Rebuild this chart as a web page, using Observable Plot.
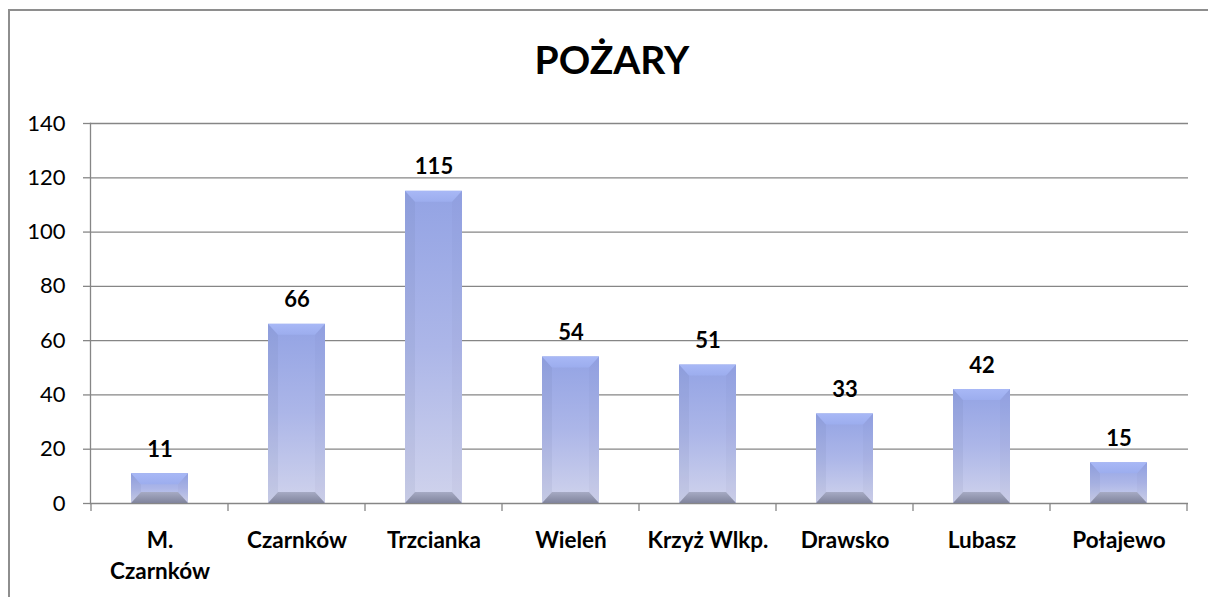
<!DOCTYPE html>
<html><head><meta charset="utf-8">
<script src="https://cdn.jsdelivr.net/npm/d3@7"></script>
<script src="https://cdn.jsdelivr.net/npm/@observablehq/plot@0.6"></script>
<style>
body{margin:0;width:1208px;height:597px;overflow:hidden;background:#fff;font-family:Lato,sans-serif;}
#wrap{position:relative;width:1208px;height:597px;}
#border{position:absolute;left:8px;top:9px;width:1300px;height:700px;border-top:2px solid #8e8e8e;border-left:2px solid #8e8e8e;}
#title{position:absolute;left:8px;width:1208px;top:36px;text-align:center;font-weight:bold;font-size:39px;font-family:Lato,sans-serif;color:#000;}
#chart{position:absolute;left:0;top:100px;}
#chart g[aria-label="y-axis tick label"]{font-size:22px;}
</style></head><body>
<div id="wrap"><div id="border"></div><div id="title">POŻARY</div><div id="chart"></div></div>
<script>
const categories = ["M. Czarnków","Czarnków","Trzcianka","Wieleń","Krzyż Wlkp.","Drawsko","Lubasz","Połajewo"];
const categoryLabels = ["M.\nCzarnków","Czarnków","Trzcianka","Wieleń","Krzyż Wlkp.","Drawsko","Lubasz","Połajewo"];
const fires = [11,66,115,54,51,33,42,15];
const yTicks = [0,20,40,60,80,100,120,140];

const data = categories.map((c,i)=>({category:c, value:fires[i]}));
const labelOf = new Map(categories.map((c,i)=>[c, categoryLabels[i]]));
const NS = "http://www.w3.org/2000/svg";

function bevel(index, scales, values, dims, context, next){
  const g = next(index, scales, values, dims, context);
  const rects = Array.from(g.querySelectorAll("rect"));
  for (const r of rects){
    const x=+r.getAttribute("x"), y=+r.getAttribute("y"), w=+r.getAttribute("width"), h=+r.getAttribute("height");
    const bh=10, bv=Math.min(11,h/2);
    const poly=(pts,fill)=>{const p=document.createElementNS(NS,"polygon");p.setAttribute("points",pts.map(q=>q.join(",")).join(" "));p.setAttribute("fill",fill);g.appendChild(p);};
    poly([[x,y],[x+bh,y+bv],[x+bh,y+h-bv],[x,y+h]],"rgba(70,80,130,0.07)");
    poly([[x+w,y],[x+w-bh,y+bv],[x+w-bh,y+h-bv],[x+w,y+h]],"rgba(70,80,130,0.04)");
    poly([[x,y],[x+w,y],[x+w-bh,y+bv],[x+bh,y+bv]],"url(#topBevel)");
    poly([[x,y+h],[x+w,y+h],[x+w-bh,y+h-bv],[x+bh,y+h-bv]],"url(#botBevel)");
  }
  return g;
}

function boundaryTicks(index, scales, values, dims){
  const g = document.createElementNS(NS,"g");
  const step = scales.x(categories[1]) - scales.x(categories[0]);
  const y0 = scales.y(0);
  const xs = categories.map(c=>scales.x(c)).concat([scales.x(categories[categories.length-1])+step]);
  for (const x of xs){
    const l=document.createElementNS(NS,"line");
    l.setAttribute("x1",x);l.setAttribute("x2",x);l.setAttribute("y1",y0);l.setAttribute("y2",y0+8);
    l.setAttribute("stroke","#868686");l.setAttribute("stroke-width","1.3");
    g.appendChild(l);
  }
  return g;
}

const chart = Plot.plot({
  width:1208, height:497,
  marginLeft:90, marginRight:20, marginTop:23, marginBottom:94,
  style:{fontFamily:"Lato, sans-serif", color:"#000", background:"transparent", overflow:"visible"},
  x:{domain:categories, padding:0, label:null},
  y:{domain:[0,140], label:null},
  marks:[
    Plot.gridY(yTicks,{stroke:"#868686", strokeOpacity:1, strokeWidth:1.3}),
    Plot.frame({anchor:"left", stroke:"#868686", strokeWidth:1.3}),
    Plot.axisY(yTicks,{tickSize:7, tickPadding:18, fontSize:22, stroke:"#868686", strokeWidth:1.3, label:null, fill:"#000"}),
    Plot.axisX({tickSize:0, tickPadding:22, fontSize:22.5, fontWeight:"bold", lineHeight:1.38, tickFormat:d=>labelOf.get(d), label:null, fill:"#000"}),
    Plot.ruleX(categories,{x:d=>d, render:boundaryTicks}),
    Plot.barY(data,{x:"category", y:"value", fill:"url(#bodyGrad)", insetLeft:40, insetRight:40, render:bevel}),
    Plot.text(data,{x:"category", y:"value", text:d=>String(d.value), fontSize:22, fontWeight:"bold", lineAnchor:"bottom", dy:-17, fill:"#000"})
  ]
});

const defs = document.createElementNS(NS,"defs");
defs.innerHTML = `
<linearGradient id="bodyGrad" x1="0" y1="0" x2="0" y2="1">
  <stop offset="0" stop-color="#93a3e4"/><stop offset="0.5" stop-color="#acb6e8"/><stop offset="1" stop-color="#d0d3ec"/>
</linearGradient>
<linearGradient id="topBevel" x1="0" y1="0" x2="0" y2="1">
  <stop offset="0" stop-color="#a8b8f6"/><stop offset="1" stop-color="#9cadee"/>
</linearGradient>
<linearGradient id="botBevel" x1="0" y1="0" x2="0" y2="1">
  <stop offset="0" stop-color="#a6aac4"/><stop offset="1" stop-color="#80849c"/>
</linearGradient>`;
chart.insertBefore(defs, chart.firstChild);
document.getElementById("chart").appendChild(chart);
</script>
</body></html>
